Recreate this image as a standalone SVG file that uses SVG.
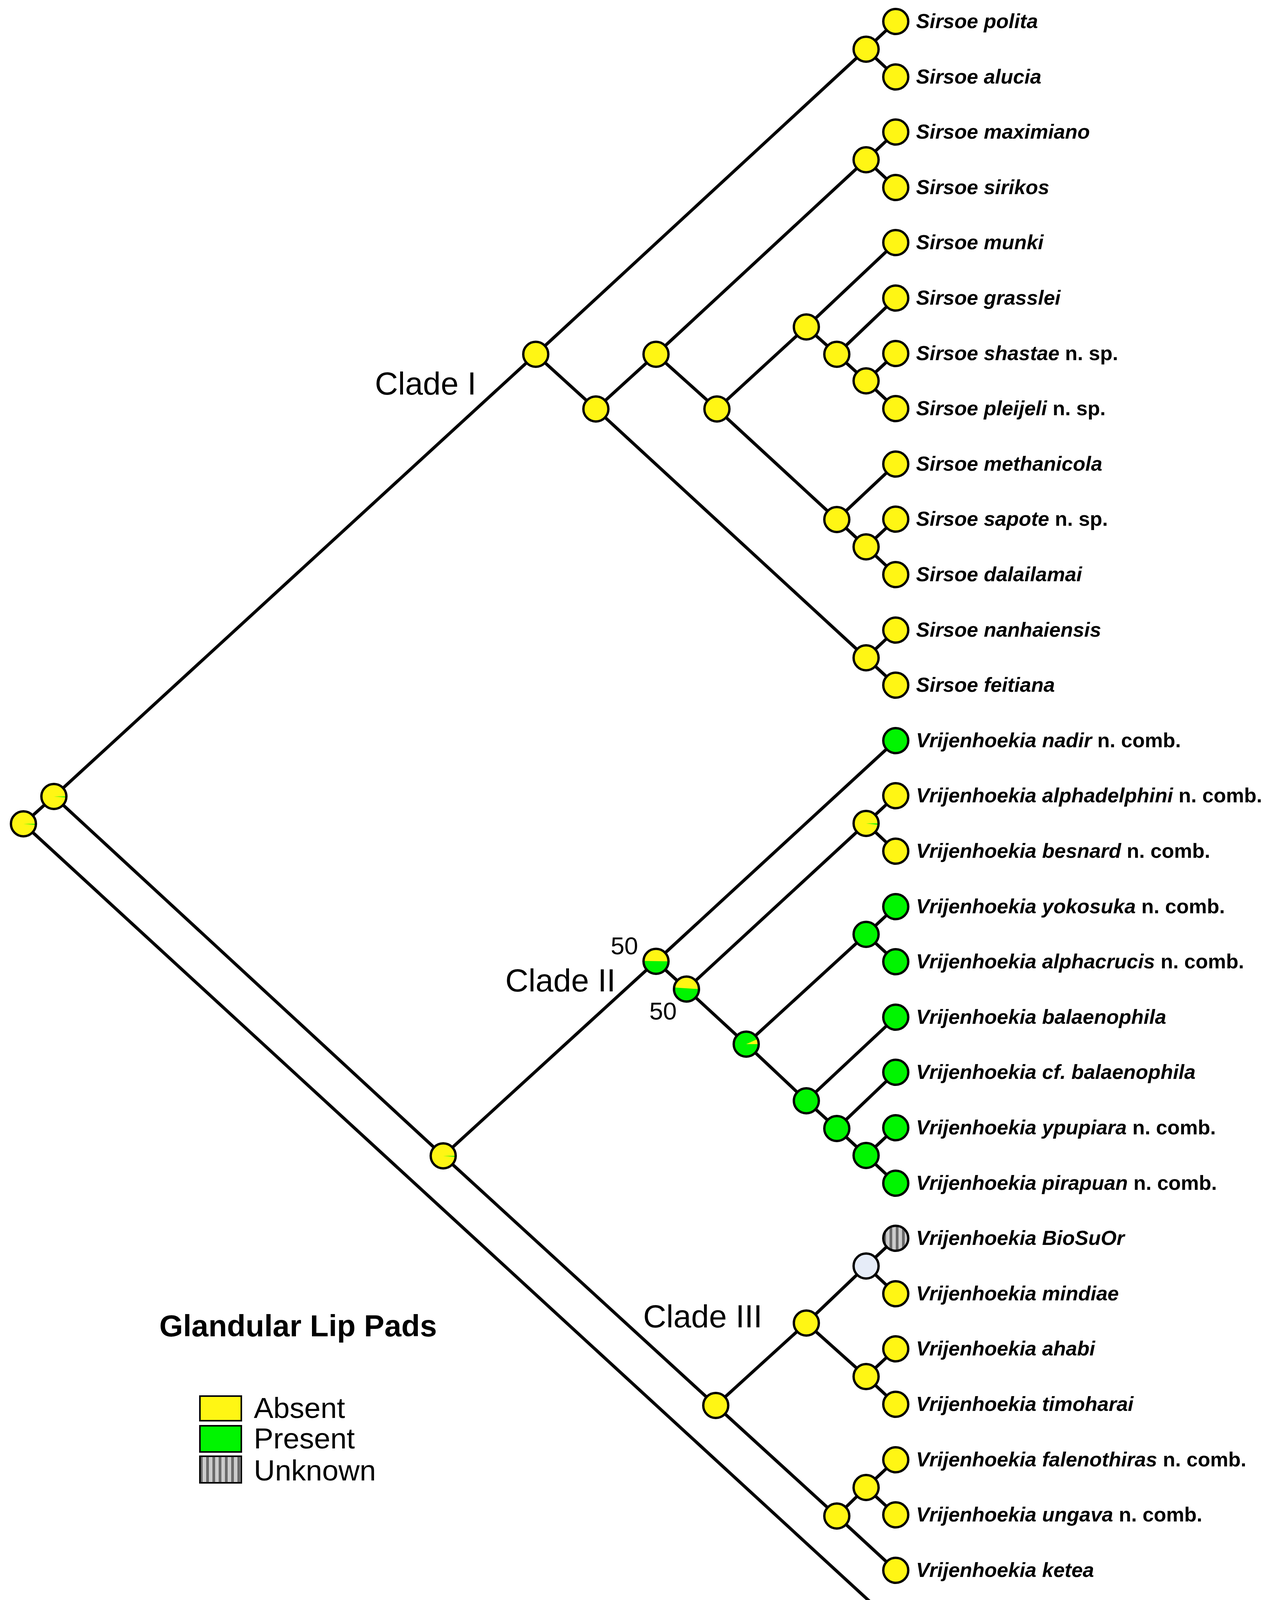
<svg xmlns="http://www.w3.org/2000/svg" width="3278" height="4224" viewBox="0 0 3278 4224">
<style>
.e{stroke:#000;stroke-width:8;fill:none}
.y{fill:#fff614}
.g{fill:#00f500}
.o{fill:none;stroke:#000;stroke-width:6}
.u{fill:url(#stripes)}
.lb{font-family:"Liberation Sans",Arial,sans-serif;font-size:52px;font-weight:bold;font-style:italic;fill:#000}
.nr{font-style:normal}
.cl{font-family:"Liberation Sans",Arial,sans-serif;font-size:82px;fill:#000}
.bs{font-family:"Liberation Sans",Arial,sans-serif;font-size:63px;fill:#000}
.lg{font-family:"Liberation Sans",Arial,sans-serif;font-size:75px;fill:#000}
</style>
<defs>
<pattern id="stripes" patternUnits="userSpaceOnUse" width="16" height="16"><rect width="16" height="16" fill="#cccccc"/><rect width="7" height="16" fill="#6a6a6a"/></pattern>
<circle id="c" r="32"/>
</defs>
<rect width="3278" height="4224" fill="#fff"/>
<g id="connectors">
<path class="e" d="M60,2109L138,2039 M60,2109L2294,4161 M138,2039L1372,907 M138,2039L1135,2959
M1372,907L2218,126 M2218,126L2294,55 M2218,126L2294,197 M1372,907L1526,1047
M1526,1047L1680,907 M1526,1047L2218,1684 M2218,1684L2294,1613 M2218,1684L2294,1754
M1680,907L2218,409 M2218,409L2294,338 M2218,409L2294,480 M1680,907L1836,1047
M1836,1047L2065,837 M2065,837L2294,621 M2065,837L2143,907 M2143,907L2294,763 M2143,907L2218,975 M2218,975L2294,905 M2218,975L2294,1046
M1836,1047L2143,1330 M2143,1330L2294,1188 M2143,1330L2218,1400 M2218,1400L2294,1329 M2218,1400L2294,1471
M1135,2959L1680,2461 M1680,2461L2294,1896 M1680,2461L1758,2532 M1758,2532L2218,2108 M2218,2108L2294,2037 M2218,2108L2294,2179
M1758,2532L1911,2673 M1911,2673L2218,2392 M2218,2392L2294,2321 M2218,2392L2294,2462 M1911,2673L2065,2818
M2065,2818L2294,2604 M2065,2818L2143,2889 M2143,2889L2294,2745 M2143,2889L2218,2958 M2218,2958L2294,2887 M2218,2958L2294,3029
M1135,2959L1833,3598 M1833,3598L2065,3387 M2065,3387L2218,3241 M2218,3241L2294,3170 M2218,3241L2294,3312 M2065,3387L2218,3524 M2218,3524L2294,3453 M2218,3524L2294,3595
M1833,3598L2143,3881 M2143,3881L2218,3808 M2218,3808L2294,3737 M2218,3808L2294,3878 M2143,3881L2294,4020"/>
</g>
<g id="n_root" transform="translate(60,2109)"><use href="#c" class="y"/><path class="g" d="M0,0L32,0L31.9,2.5Z"/><use href="#c" class="o"/></g>
<g id="n_A" transform="translate(138,2039)"><use href="#c" class="y"/><path class="g" d="M0,0L32,0L31.9,2.5Z"/><use href="#c" class="o"/></g>
<g id="n_cladeI" transform="translate(1372,907)"><use href="#c" class="y"/><use href="#c" class="o"/></g>
<g id="n_N1" transform="translate(1526,1047)"><use href="#c" class="y"/><use href="#c" class="o"/></g>
<g id="n_N2" transform="translate(1680,907)"><use href="#c" class="y"/><use href="#c" class="o"/></g>
<g id="n_N3" transform="translate(1836,1047)"><use href="#c" class="y"/><use href="#c" class="o"/></g>
<g id="n_N4" transform="translate(2065,837)"><use href="#c" class="y"/><use href="#c" class="o"/></g>
<g id="n_N6" transform="translate(2143,907)"><use href="#c" class="y"/><use href="#c" class="o"/></g>
<g id="n_N5" transform="translate(2143,1330)"><use href="#c" class="y"/><use href="#c" class="o"/></g>
<g id="n_P01" transform="translate(2218,126)"><use href="#c" class="y"/><use href="#c" class="o"/></g>
<g id="n_P23" transform="translate(2218,409)"><use href="#c" class="y"/><use href="#c" class="o"/></g>
<g id="n_P67" transform="translate(2218,975)"><use href="#c" class="y"/><use href="#c" class="o"/></g>
<g id="n_P910" transform="translate(2218,1400)"><use href="#c" class="y"/><use href="#c" class="o"/></g>
<g id="n_P1112" transform="translate(2218,1684)"><use href="#c" class="y"/><use href="#c" class="o"/></g>
<g id="n_C23" transform="translate(1135,2959)"><use href="#c" class="y"/><path class="g" d="M0,0L32,0L31.9,2.5Z"/><use href="#c" class="o"/></g>
<g id="n_C2" transform="translate(1680,2461)"><use href="#c" class="y"/><path class="g" d="M-32,-1L32,0A32,32 0 0 1 -32,-1Z"/><use href="#c" class="o"/></g>
<g id="n_C2b" transform="translate(1758,2532)"><use href="#c" class="y"/><path class="g" d="M-32,-4L32,0A32,32 0 0 1 -32,-4Z"/><use href="#c" class="o"/></g>
<g id="n_N7" transform="translate(1911,2673)"><use href="#c" class="g"/><path class="y" d="M0,0L32,0A32,32 0 0 0 29,-13Z"/><use href="#c" class="o"/></g>
<g id="n_P1415" transform="translate(2218,2108)"><use href="#c" class="y"/><path class="g" d="M0,0L32,0L31.8,3.5Z"/><use href="#c" class="o"/></g>
<g id="n_P1617" transform="translate(2218,2392)"><use href="#c" class="g"/><use href="#c" class="o"/></g>
<g id="n_N8" transform="translate(2065,2818)"><use href="#c" class="g"/><use href="#c" class="o"/></g>
<g id="n_N9" transform="translate(2143,2889)"><use href="#c" class="g"/><use href="#c" class="o"/></g>
<g id="n_P2021" transform="translate(2218,2958)"><use href="#c" class="g"/><use href="#c" class="o"/></g>
<g id="n_C3" transform="translate(1833,3598)"><use href="#c" class="y"/><use href="#c" class="o"/></g>
<g id="n_N10" transform="translate(2065,3387)"><use href="#c" class="y"/><use href="#c" class="o"/></g>
<g id="n_P2223" transform="translate(2218,3241)"><use href="#c" fill="#e6ecf8"/><use href="#c" class="o"/></g>
<g id="n_P2425" transform="translate(2218,3524)"><use href="#c" class="y"/><use href="#c" class="o"/></g>
<g id="n_N11" transform="translate(2143,3881)"><use href="#c" class="y"/><use href="#c" class="o"/></g>
<g id="n_P2627" transform="translate(2218,3808)"><use href="#c" class="y"/><use href="#c" class="o"/></g>
<g id="leaves">
<g id="l0" transform="translate(2294,55)"><use href="#c" class="y"/><use href="#c" class="o"/><text class="lb" x="52" y="17">Sirsoe polita</text></g>
<g id="l1" transform="translate(2294,197)"><use href="#c" class="y"/><use href="#c" class="o"/><text class="lb" x="52" y="17">Sirsoe alucia</text></g>
<g id="l2" transform="translate(2294,338)"><use href="#c" class="y"/><use href="#c" class="o"/><text class="lb" x="52" y="17">Sirsoe maximiano</text></g>
<g id="l3" transform="translate(2294,480)"><use href="#c" class="y"/><use href="#c" class="o"/><text class="lb" x="52" y="17">Sirsoe sirikos</text></g>
<g id="l4" transform="translate(2294,621)"><use href="#c" class="y"/><use href="#c" class="o"/><text class="lb" x="52" y="17">Sirsoe munki</text></g>
<g id="l5" transform="translate(2294,763)"><use href="#c" class="y"/><use href="#c" class="o"/><text class="lb" x="52" y="17">Sirsoe grasslei</text></g>
<g id="l6" transform="translate(2294,905)"><use href="#c" class="y"/><use href="#c" class="o"/><text class="lb" x="52" y="17">Sirsoe shastae<tspan class="nr"> n. sp.</tspan></text></g>
<g id="l7" transform="translate(2294,1046)"><use href="#c" class="y"/><use href="#c" class="o"/><text class="lb" x="52" y="17">Sirsoe pleijeli<tspan class="nr"> n. sp.</tspan></text></g>
<g id="l8" transform="translate(2294,1188)"><use href="#c" class="y"/><use href="#c" class="o"/><text class="lb" x="52" y="17">Sirsoe methanicola</text></g>
<g id="l9" transform="translate(2294,1329)"><use href="#c" class="y"/><use href="#c" class="o"/><text class="lb" x="52" y="17">Sirsoe sapote<tspan class="nr"> n. sp.</tspan></text></g>
<g id="l10" transform="translate(2294,1471)"><use href="#c" class="y"/><use href="#c" class="o"/><text class="lb" x="52" y="17">Sirsoe dalailamai</text></g>
<g id="l11" transform="translate(2294,1613)"><use href="#c" class="y"/><use href="#c" class="o"/><text class="lb" x="52" y="17">Sirsoe nanhaiensis</text></g>
<g id="l12" transform="translate(2294,1754)"><use href="#c" class="y"/><use href="#c" class="o"/><text class="lb" x="52" y="17">Sirsoe feitiana</text></g>
<g id="l13" transform="translate(2294,1896)"><use href="#c" class="g"/><use href="#c" class="o"/><text class="lb" x="52" y="17">Vrijenhoekia nadir<tspan class="nr"> n. comb.</tspan></text></g>
<g id="l14" transform="translate(2294,2037)"><use href="#c" class="y"/><use href="#c" class="o"/><text class="lb" x="52" y="17">Vrijenhoekia alphadelphini<tspan class="nr"> n. comb.</tspan></text></g>
<g id="l15" transform="translate(2294,2179)"><use href="#c" class="y"/><use href="#c" class="o"/><text class="lb" x="52" y="17">Vrijenhoekia besnard<tspan class="nr"> n. comb.</tspan></text></g>
<g id="l16" transform="translate(2294,2321)"><use href="#c" class="g"/><use href="#c" class="o"/><text class="lb" x="52" y="17">Vrijenhoekia yokosuka<tspan class="nr"> n. comb.</tspan></text></g>
<g id="l17" transform="translate(2294,2462)"><use href="#c" class="g"/><use href="#c" class="o"/><text class="lb" x="52" y="17">Vrijenhoekia alphacrucis<tspan class="nr"> n. comb.</tspan></text></g>
<g id="l18" transform="translate(2294,2604)"><use href="#c" class="g"/><use href="#c" class="o"/><text class="lb" x="52" y="17">Vrijenhoekia balaenophila</text></g>
<g id="l19" transform="translate(2294,2745)"><use href="#c" class="g"/><use href="#c" class="o"/><text class="lb" x="52" y="17">Vrijenhoekia cf. balaenophila</text></g>
<g id="l20" transform="translate(2294,2887)"><use href="#c" class="g"/><use href="#c" class="o"/><text class="lb" x="52" y="17">Vrijenhoekia ypupiara<tspan class="nr"> n. comb.</tspan></text></g>
<g id="l21" transform="translate(2294,3029)"><use href="#c" class="g"/><use href="#c" class="o"/><text class="lb" x="52" y="17">Vrijenhoekia pirapuan<tspan class="nr"> n. comb.</tspan></text></g>
<g id="l22" transform="translate(2294,3170)"><use href="#c" class="u"/><use href="#c" class="o"/><text class="lb" x="52" y="17">Vrijenhoekia BioSuOr</text></g>
<g id="l23" transform="translate(2294,3312)"><use href="#c" class="y"/><use href="#c" class="o"/><text class="lb" x="52" y="17">Vrijenhoekia mindiae</text></g>
<g id="l24" transform="translate(2294,3453)"><use href="#c" class="y"/><use href="#c" class="o"/><text class="lb" x="52" y="17">Vrijenhoekia ahabi</text></g>
<g id="l25" transform="translate(2294,3595)"><use href="#c" class="y"/><use href="#c" class="o"/><text class="lb" x="52" y="17">Vrijenhoekia timoharai</text></g>
<g id="l26" transform="translate(2294,3737)"><use href="#c" class="y"/><use href="#c" class="o"/><text class="lb" x="52" y="17">Vrijenhoekia falenothiras<tspan class="nr"> n. comb.</tspan></text></g>
<g id="l27" transform="translate(2294,3878)"><use href="#c" class="y"/><use href="#c" class="o"/><text class="lb" x="52" y="17">Vrijenhoekia ungava<tspan class="nr"> n. comb.</tspan></text></g>
<g id="l28" transform="translate(2294,4020)"><use href="#c" class="y"/><use href="#c" class="o"/><text class="lb" x="52" y="17">Vrijenhoekia ketea</text></g>
<g id="l29" transform="translate(2294,4161)"><use href="#c" class="y"/><use href="#c" class="o"/><text class="lb" x="52" y="15">Hesiospina vestimentifera</text></g>
</g>
<g id="labels">
<text class="cl" x="960" y="1010">Clade I</text>
<text class="cl" x="1294" y="2538">Clade II</text>
<text class="cl" x="1647" y="3398">Clade III</text>
<text class="bs" x="1564" y="2443">50</text>
<text class="bs" x="1663" y="2610">50</text>
</g>
<g id="legend">
<text x="408" y="3421" font-family="'Liberation Sans',Arial,sans-serif" font-size="78" font-weight="bold">Glandular Lip Pads</text>
<rect x="512" y="3574" width="106" height="63" class="y" stroke="#000" stroke-width="4"/>
<rect x="512" y="3650" width="106" height="67" class="g" stroke="#000" stroke-width="4"/>
<rect x="512" y="3728" width="106" height="68" class="u" stroke="#000" stroke-width="4"/>
<text class="lg" x="650" y="3630">Absent</text>
<text class="lg" x="650" y="3708">Present</text>
<text class="lg" x="650" y="3790">Unknown</text>
</g>
</svg>
